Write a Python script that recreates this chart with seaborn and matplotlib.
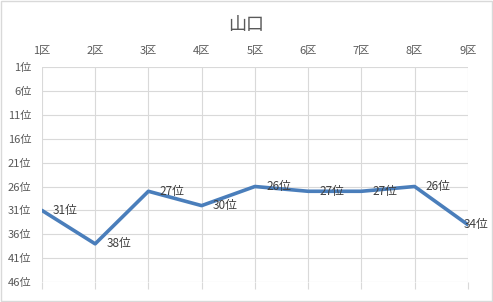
import matplotlib
matplotlib.use("Agg")
import matplotlib.pyplot as plt
import seaborn as sns
import pandas as pd

districts = ["1区", "2区", "3区", "4区", "5区", "6区", "7区", "8区", "9区"]
ranks = [31, 38, 27, 30, 26, 27, 27, 26, 34]
ytick_vals = [1, 6, 11, 16, 21, 26, 31, 36, 41, 46]
ytick_labels = [f"{v}位" for v in ytick_vals]
title = "山口"

sns.set_style("white")
plt.rcParams['font.family'] = ['Noto Sans CJK JP', 'DejaVu Sans']

df = pd.DataFrame({"district": districts, "rank": ranks})

fig = plt.figure(figsize=(4.93, 3.02), dpi=100)
ax = fig.add_axes([0.085, 0.066, 0.864, 0.712])

sns.lineplot(data=df, x="district", y="rank", ax=ax, color="#4a7ebb",
             linewidth=2.6, sort=False)

ax.set_ylim(46, 1)
ax.set_xlim(0, len(districts) - 1)
ax.set_yticks(ytick_vals)
ax.set_yticklabels(ytick_labels)
ax.set_xticks(range(len(districts)))
ax.set_xticklabels(districts)
ax.xaxis.tick_top()
ax.tick_params(axis="x", which="both", top=False, bottom=True, labeltop=True,
               labelbottom=False, length=5, color="#d9d9d9", width=0.8,
               labelsize=8, labelcolor="#595959", pad=3)
ax.tick_params(axis="y", left=False, labelsize=8, labelcolor="#595959", pad=4)
ax.set_xlabel("")
ax.set_ylabel("")
ax.grid(True, color="#d9d9d9", linewidth=0.8)
ax.set_axisbelow(True)
for s in ax.spines.values():
    s.set_visible(False)

n = len(ranks)
for i, v in enumerate(ranks):
    dx = 8 if i < n - 1 else -3
    ax.annotate(f"{v}位", (i, v), xytext=(dx, 0), textcoords="offset points",
                ha="left", va="center", fontsize=8.5, color="#404040")

fig.text(0.5, 0.918, title, ha="center", va="center", fontsize=13, color="#595959")

fig.patches.append(plt.Rectangle((0.002, 0.003), 0.995, 0.994, transform=fig.transFigure,
                                 fill=False, edgecolor="#d9d9d9", linewidth=1))

fig.savefig("out.png", dpi=100)
